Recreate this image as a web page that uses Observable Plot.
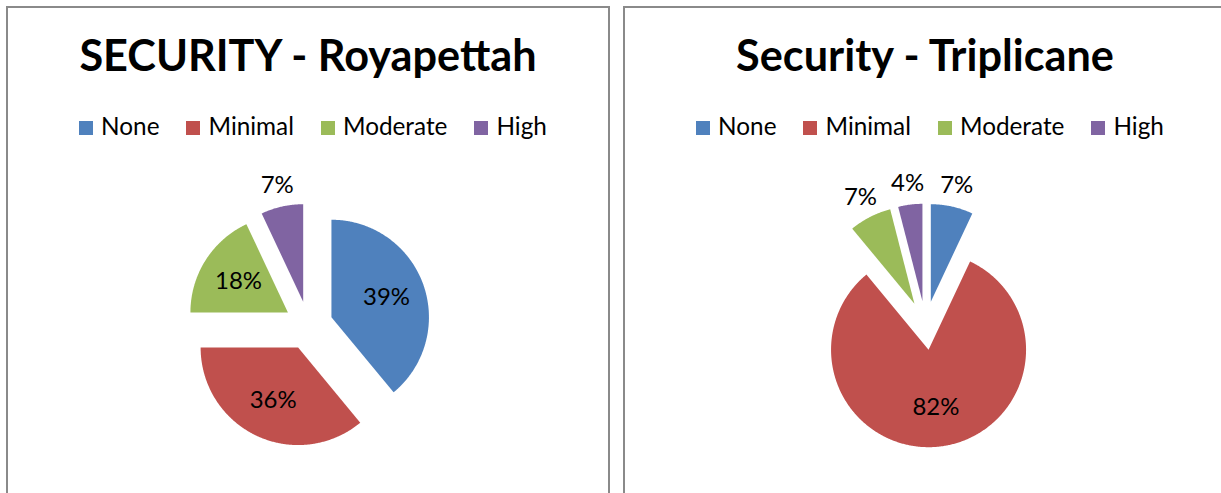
<!DOCTYPE html>
<html><head><meta charset="utf-8">
<script src="https://cdn.jsdelivr.net/npm/d3@7"></script>
<script src="https://cdn.jsdelivr.net/npm/@observablehq/plot@0.6"></script>
<style>
html,body{margin:0;padding:0;background:#fff;}
body{width:1221px;height:493px;overflow:hidden;position:relative;font-family:Lato,"Open Sans",sans-serif;}
.panel{position:absolute;top:6px;width:604px;height:540px;border:2px solid #8a8a8a;box-sizing:border-box;background:#fff;}
.title{position:absolute;left:0;right:0;text-align:center;font-weight:700;color:#000;line-height:1;white-space:nowrap;}
.legend{position:absolute;left:10px;right:0;text-align:center;line-height:1;white-space:nowrap;color:#000;}
.item{display:inline-block;margin:0 13.5px;}
.sw{display:inline-block;width:14px;height:14px;margin-right:8px;vertical-align:baseline;}
.chart{position:absolute;left:0;top:142px;}
</style>
</head><body>
<div id="root"></div>
<script>
// ---- data ----
const categories = ["None", "Minimal", "Moderate", "High"];
const colors = ["#4F81BD", "#C0504D", "#9BBB59", "#8064A2"];
const titles = ["SECURITY - Royapettah", "Security - Triplicane"];
const royapettahValues = [39, 36, 18, 7];
const triplicaneValues = [7, 82, 7, 4];

// ---- font fitting (Calibri stand-in) ----
const FAMILY = 'Lato, "Open Sans", sans-serif';
const ctx = document.createElement("canvas").getContext("2d");
function widthAt(text, weight, size){ ctx.font = `${weight} ${size}px ${FAMILY}`; return ctx.measureText(text).width; }
function fit(text, weight, target){ return 100 * target / widthAt(text, weight, 100); }
function ascentDescent(weight, size){ ctx.font = `${weight} ${size}px ${FAMILY}`; const m = ctx.measureText("H"); return [m.fontBoundingBoxAscent, m.fontBoundingBoxDescent]; }
function topForBaseline(baseline, weight, size){ const [a,d] = ascentDescent(weight,size); return baseline - ((size - (a + d)) / 2 + a); }

const titleSize = (fit(titles[0], 700, 451) + fit(titles[1], 700, 387)) / 2;
const legendSize = fit(categories.join(""), 400, 298);
const labelSize = fit("39%", 400, 47);

const panels = [
  {left: 6, title: titles[0], values: royapettahValues},
  {left: 623, title: titles[1], values: triplicaneValues}
];

const R = 97.5;          // px per unit radius
const W = 600, H = 345, CY = 175;

function pieData(values){
  const total = d3.sum(values);
  let acc = 0;
  const explode = 0.25;
  const pts = [], labels = [];
  categories.forEach((c, i) => {
    const a0 = acc / total * 2 * Math.PI; acc += values[i];
    const a1 = acc / total * 2 * Math.PI;
    const mid = (a0 + a1) / 2;
    const ox = explode * Math.sin(mid), oy = explode * Math.cos(mid);
    pts.push({category: c, x: ox, y: oy});
    const n = Math.max(4, Math.ceil((a1 - a0) / (Math.PI / 360)));
    for (let k = 0; k <= n; k++) {
      const a = a0 + (a1 - a0) * k / n;
      pts.push({category: c, x: ox + Math.sin(a), y: oy + Math.cos(a)});
    }
    const lr = values[i] / total < 0.1 ? 1.22 : 0.6;
    labels.push({category: c, x: ox + lr * Math.sin(mid), y: oy + lr * Math.cos(mid),
                 text: Math.round(values[i] / total * 100) + "%"});
  });
  return {pts, labels};
}

const root = document.getElementById("root");
for (const p of panels) {
  const panel = document.createElement("div");
  panel.className = "panel";
  panel.style.left = p.left + "px";
  root.appendChild(panel);

  const t = document.createElement("div");
  t.className = "title";
  t.textContent = p.title;
  t.style.fontSize = titleSize + "px";
  t.style.top = topForBaseline(64, 700, titleSize) + "px";
  panel.appendChild(t);

  const lg = document.createElement("div");
  lg.className = "legend";
  lg.style.fontSize = legendSize + "px";
  lg.style.top = topForBaseline(128, 400, legendSize) + "px";
  categories.forEach((c, i) => {
    const it = document.createElement("span");
    it.className = "item";
    const sw = document.createElement("span");
    sw.className = "sw"; sw.style.background = colors[i];
    it.appendChild(sw);
    it.appendChild(document.createTextNode(c));
    lg.appendChild(it);
  });
  panel.appendChild(lg);

  const {pts, labels} = pieData(p.values);
  const chart = Plot.plot({
    width: W, height: H, margin: 0,
    style: {fontFamily: FAMILY, background: "transparent"},
    x: {domain: [-W / 2 / R, W / 2 / R], axis: null},
    y: {domain: [-(H - CY) / R, CY / R], axis: null},
    color: {domain: categories, range: colors},
    marks: [
      Plot.line(pts, {x: "x", y: "y", z: "category", fill: "category", stroke: "none", curve: "linear"}),
      Plot.text(labels, {x: "x", y: "y", text: "text", fontSize: labelSize, fill: "#000",
                         textAnchor: "middle", lineAnchor: "middle", fontFamily: FAMILY})
    ]
  });
  const wrap = document.createElement("div");
  wrap.className = "chart";
  wrap.appendChild(chart);
  panel.appendChild(wrap);
}
</script>
</body></html>
